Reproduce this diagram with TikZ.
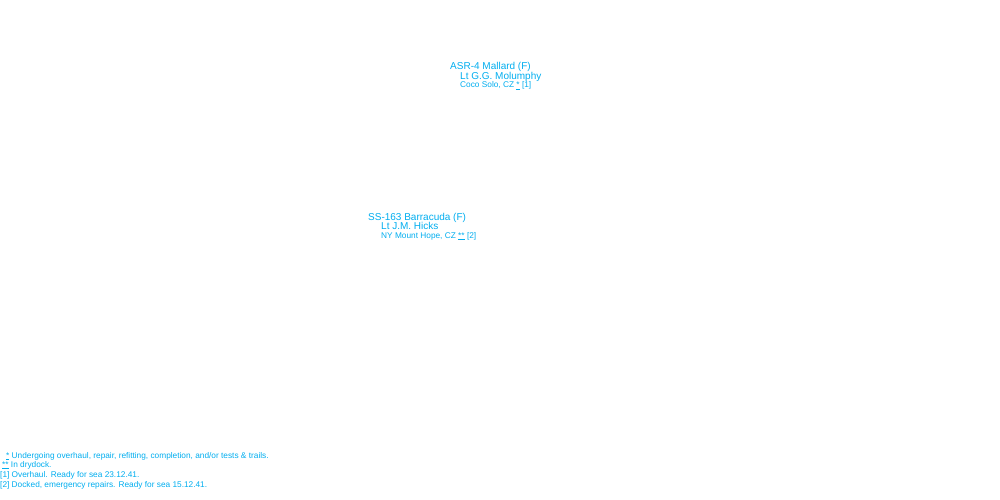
\documentclass[tikz,border=0pt]{standalone}
\usepackage{fontspec}
\setmainfont{Liberation Sans}
\usetikzlibrary{positioning}
\begin{document}
\begin{tikzpicture}[x=1pt,y=-1pt,every node/.style={anchor=base west,inner sep=0pt,text=cyan},
	boat/.style={font=\fontsize{10}{11}\selectfont},
	note/.style={font=\fontsize{8.3}{9}\selectfont}]
\useasboundingbox (0,0) rectangle (1000,500);

\node[boat] (mallard) at (450,70) {ASR-4 Mallard (F)};
\node[boat] (mallardcdr) at (460,79.5) {Lt G.G. Molumphy};
\node[note] (mallardloc) at (460,88) {Coco Solo, CZ \underline{*} [1]};

\node[boat] (barracuda) at (368,220) {SS-163 Barracuda (F)};
\node[boat] (barracudacdr) at (381,229.5) {Lt J.M. Hicks};
\node[note] (barracudaloc) at (381,238) {NY Mount Hope, CZ \underline{**} [2]};

\node[note] (fna) at (6,458) {\underline{*} Undergoing overhaul, repair, refitting, completion, and/or tests \& trails.};
\node[note] (fnb) at (2,467) {\underline{**} In drydock.};
\node[note] (fnc) at (0,477.5) {[1] Overhaul. Ready for sea 23.12.41.};
\node[note] (fnd) at (0,487) {[2] Docked, emergency repairs. Ready for sea 15.12.41.};
\end{tikzpicture}
\end{document}
